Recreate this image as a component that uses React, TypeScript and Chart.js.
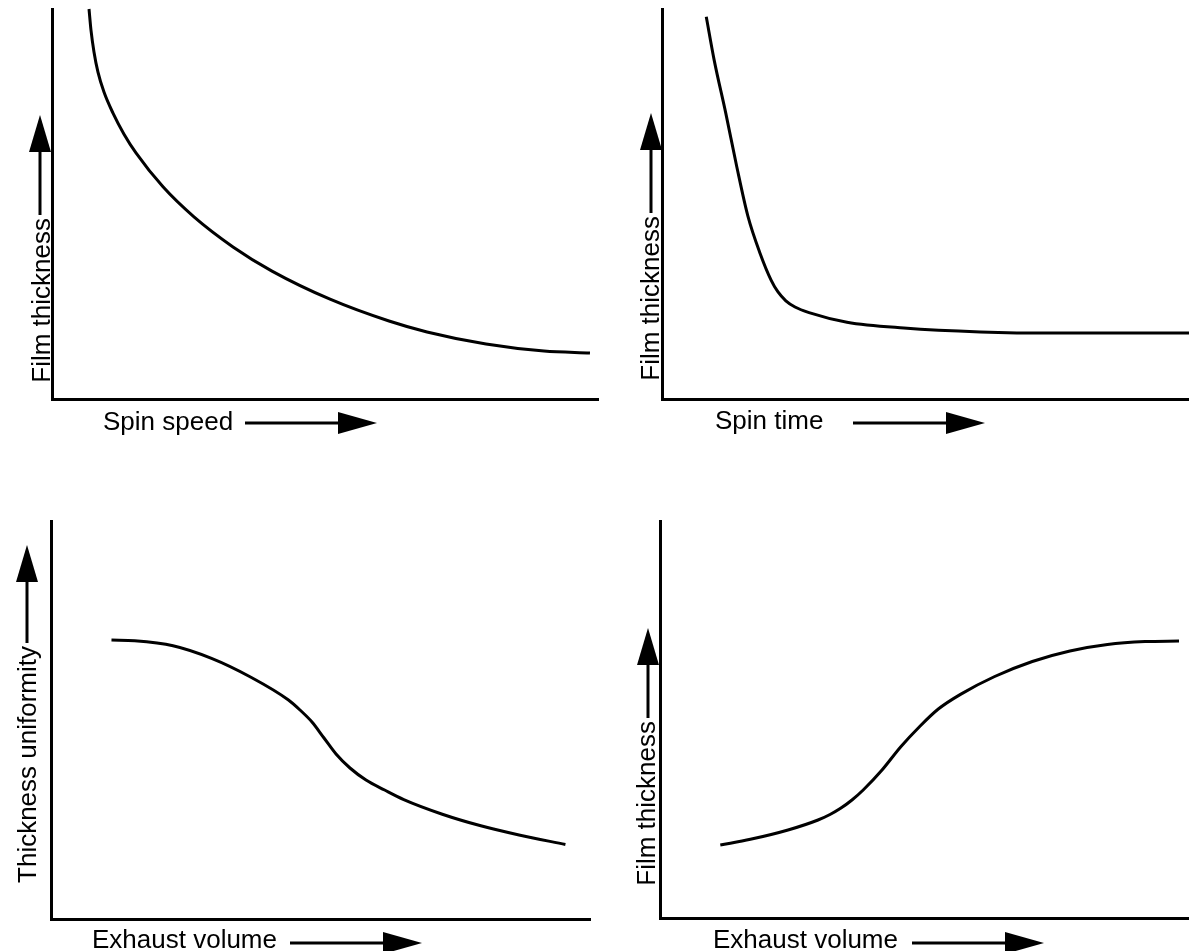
import React, { useEffect, useRef } from "react";
import { Chart, registerables } from "chart.js";

Chart.register(...registerables);

// ---- Data (normalised 0..100 on both axes) ----
const spinSpeedX = [6.78, 7.14, 7.69, 8.42, 9.52, 11.17, 13.19, 15.38, 20.33, 26.0, 33.15, 40.29, 50.92, 61.72, 68.68, 79.49, 90.11, 98.53];
const spinSpeedY = [100, 94.6, 89.0, 83.8, 78.7, 73.3, 67.9, 63.1, 54.4, 46.7, 39.0, 32.8, 25.6, 20.0, 17.2, 14.1, 12.3, 11.8];

const spinTimeX = [8.4, 9.9, 12.1, 14.2, 16.3, 18.6, 20.7, 22.01, 23.5, 25.24, 27.9, 35.1, 45.9, 60.4, 74.8, 100];
const spinTimeY = [98.0, 86.9, 73.3, 59.5, 46.9, 37.4, 30.5, 27.44, 25.18, 23.59, 22.15, 19.7, 18.2, 17.2, 16.9, 16.9];

const exhaustUniformX = [11.22, 15.51, 22.63, 29.78, 36.92, 44.06, 46.2, 48.42, 50.65, 52.88, 55.47, 58.44, 61.89, 65.45, 72.6, 79.74, 86.83, 95.44];
const exhaustUniformY = [70.1, 69.92, 68.67, 65.5, 60.88, 55.03, 52.51, 49.5, 45.48, 41.46, 37.94, 34.92, 32.41, 30.0, 26.33, 23.42, 21.11, 18.72];

const exhaustThickX = [11.4, 17.09, 24.2, 29.87, 32.14, 34.14, 36.29, 38.41, 41.97, 45.52, 49.05, 52.61, 56.88, 63.27, 70.38, 77.49, 84.59, 91.7, 98.11];
const exhaustThickY = [18.39, 19.82, 22.17, 24.69, 26.07, 27.63, 29.72, 32.24, 37.28, 43.15, 48.19, 52.64, 56.4, 60.83, 64.61, 67.25, 68.87, 69.62, 69.77];

const xTitles = ["Spin speed", "Spin time", "Exhaust volume", "Exhaust volume"];
const yTitles = ["Film thickness", "Film thickness", "Thickness uniformity", "Film thickness"];

const FONT = '26px "Liberation Sans", Arial, Helvetica, sans-serif';

const sketchLabels = {
  id: "sketchLabels",
  afterDraw(chart: any, _args: any, o: any) {
    const { ctx, chartArea: a } = chart;
    ctx.save();
    ctx.fillStyle = "#000";
    ctx.strokeStyle = "#000";
    ctx.font = FONT;
    ctx.lineWidth = 3;

    // vertical arrow (points up)
    const ax = a.left + o.yArrowDx;
    const tip = a.top + o.yArrowTip;
    const shaftEnd = a.top + o.yShaftEnd;
    ctx.beginPath();
    ctx.moveTo(ax, tip + 30);
    ctx.lineTo(ax, shaftEnd);
    ctx.stroke();
    ctx.beginPath();
    ctx.moveTo(ax, tip);
    ctx.lineTo(ax - 11, tip + 37);
    ctx.lineTo(ax + 11, tip + 37);
    ctx.closePath();
    ctx.fill();

    // vertical title
    ctx.save();
    ctx.translate(a.left + o.yTextDx, shaftEnd + 3);
    ctx.rotate(-Math.PI / 2);
    ctx.textAlign = "right";
    ctx.textBaseline = "alphabetic";
    ctx.fillText(o.yText, 0, 0);
    ctx.restore();

    // horizontal title
    ctx.textAlign = "left";
    ctx.textBaseline = "alphabetic";
    ctx.fillText(o.xText, a.left + o.xTextDx, a.bottom + o.xTextDy);

    // horizontal arrow (points right)
    const ay = a.bottom + o.xArrowDy;
    const x0 = a.left + o.xArrowStart;
    const xt = a.left + o.xArrowTip;
    ctx.beginPath();
    ctx.moveTo(x0, ay);
    ctx.lineTo(xt - 30, ay);
    ctx.stroke();
    ctx.beginPath();
    ctx.moveTo(xt, ay);
    ctx.lineTo(xt - 39, ay - 11);
    ctx.lineTo(xt - 39, ay + 11);
    ctx.closePath();
    ctx.fill();
    ctx.restore();
  },
};

type Panel = {
  left: number;
  top: number;
  width: number;
  height: number;
  padding: { left: number; top: number; right: number; bottom: number };
  xs: number[];
  ys: number[];
  labels: any;
};

const panels: Panel[] = [
  {
    left: 0, top: 0, width: 600, height: 475,
    padding: { left: 52, top: 9, right: 2, bottom: 76 },
    xs: spinSpeedX, ys: spinSpeedY,
    labels: { xText: xTitles[0], yText: yTitles[0], yArrowDx: -12, yArrowTip: 106, yShaftEnd: 206, yTextDx: -2, xTextDx: 51, xTextDy: 31, xArrowDy: 24, xArrowStart: 193, xArrowTip: 325 },
  },
  {
    left: 600, top: 0, width: 589, height: 475,
    padding: { left: 62, top: 9, right: 0, bottom: 76 },
    xs: spinTimeX, ys: spinTimeY,
    labels: { xText: xTitles[1], yText: yTitles[1], yArrowDx: -11, yArrowTip: 104, yShaftEnd: 204, yTextDx: -3, xTextDx: 53, xTextDy: 30, xArrowDy: 24, xArrowStart: 191, xArrowTip: 323 },
  },
  {
    left: 0, top: 475, width: 600, height: 476,
    padding: { left: 51, top: 46, right: 10, bottom: 32 },
    xs: exhaustUniformX, ys: exhaustUniformY,
    labels: { xText: xTitles[2], yText: yTitles[2], yArrowDx: -24, yArrowTip: 24, yShaftEnd: 122, yTextDx: -15, xTextDx: 41, xTextDy: 29, xArrowDy: 24, xArrowStart: 239, xArrowTip: 371 },
  },
  {
    left: 600, top: 475, width: 589, height: 476,
    padding: { left: 60, top: 46, right: 0, bottom: 33 },
    xs: exhaustThickX, ys: exhaustThickY,
    labels: { xText: xTitles[3], yText: yTitles[3], yArrowDx: -12, yArrowTip: 107, yShaftEnd: 197, yTextDx: -5, xTextDx: 53, xTextDy: 30, xArrowDy: 25, xArrowStart: 252, xArrowTip: 384 },
  },
];

function PanelChart({ p }: { p: Panel }) {
  const ref = useRef<HTMLCanvasElement>(null);
  useEffect(() => {
    if (!ref.current) return;
    const chart = new Chart(ref.current, {
      type: "line",
      data: {
        datasets: [
          {
            data: p.xs.map((x, i) => ({ x, y: p.ys[i] })),
            borderColor: "#000",
            borderWidth: 3,
            pointRadius: 0,
            cubicInterpolationMode: "monotone",
            fill: false,
            clip: 6,
          } as any,
        ],
      },
      options: {
        responsive: false,
        animation: false,
        layout: { padding: p.padding },
        plugins: {
          legend: { display: false },
          tooltip: { enabled: false },
          sketchLabels: p.labels,
        } as any,
        scales: {
          x: {
            type: "linear",
            min: 0,
            max: 100,
            ticks: { display: false },
            grid: { display: false, drawTicks: false },
            border: { display: true, color: "#000", width: 3 },
          },
          y: {
            type: "linear",
            min: 0,
            max: 100,
            ticks: { display: false },
            grid: { display: false, drawTicks: false },
            border: { display: true, color: "#000", width: 3 },
          },
        },
      },
      plugins: [sketchLabels as any],
    });
    return () => chart.destroy();
  }, [p]);
  return (
    <canvas
      ref={ref}
      width={p.width}
      height={p.height}
      style={{ position: "absolute", left: p.left, top: p.top, width: p.width, height: p.height }}
    />
  );
}

export default function App() {
  return (
    <div style={{ position: "absolute", left: 0, top: 0, width: 1189, height: 951, background: "#fff", overflow: "hidden" }}>
      {panels.map((p, i) => (
        <PanelChart key={i} p={p} />
      ))}
    </div>
  );
}
